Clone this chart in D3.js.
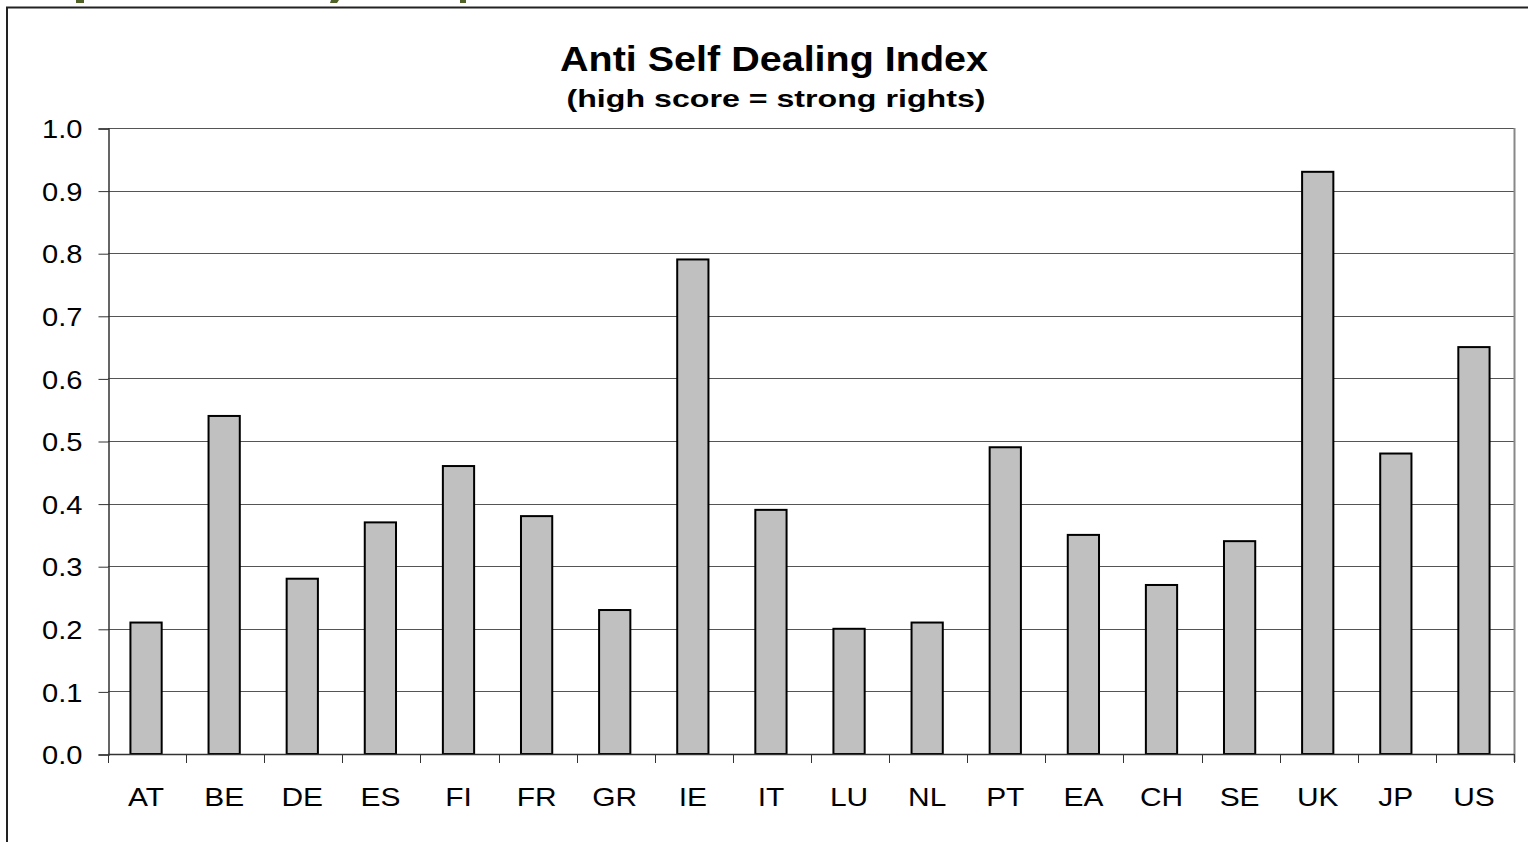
<!DOCTYPE html>
<html>
<head>
<meta charset="utf-8">
<script src="https://cdn.jsdelivr.net/npm/d3@7"></script>
<style>
  html, body { margin: 0; padding: 0; background: #fff; }
  svg { display: block; }
  text { font-family: "Liberation Sans", Arial, sans-serif; fill: #000; }
</style>
</head>
<body>
<svg id="chart" width="1528" height="842"></svg>
<script>
// Anti self dealing index by country
const countries = ["AT","BE","DE","ES","FI","FR","GR","IE","IT","LU","NL","PT","EA","CH","SE","UK","JP","US"];
const scores = [0.21,0.54,0.28,0.37,0.46,0.38,0.23,0.79,0.39,0.20,0.21,0.49,0.35,0.27,0.34,0.93,0.48,0.65];
const yTicks = [0,0.1,0.2,0.3,0.4,0.5,0.6,0.7,0.8,0.9,1.0];
const titleText = "Anti Self Dealing Index";
const subtitleText = "(high score = strong rights)";

const svg = d3.select("#chart");
const plot = { left: 108, right: 1514, top: 128, bottom: 754 };

// widen glyphs horizontally by a factor, keeping the anchor point
function stretch(sel, factor) {
  sel.each(function () {
    const w = this.getComputedTextLength();
    d3.select(this).attr("textLength", w * factor).attr("lengthAdjust", "spacingAndGlyphs");
  });
}

const x = d3.scaleBand()
  .domain(countries)
  .range([plot.left, plot.right])
  .paddingInner(0.6)
  .paddingOuter(0.3);

const y = d3.scaleLinear().domain([0, 1]).range([plot.bottom, plot.top]);

// slide header fragments peeking in at the top edge
const green = "#4f6228";
svg.append("path").attr("d", "M76,0H84V3H76Z").attr("fill", green);
svg.append("path").attr("d", "M331,0H339L337,3H330Z").attr("fill", green);
svg.append("path").attr("d", "M460,0H466V3H460Z").attr("fill", green);

// outer chart frame
svg.append("line").attr("x1", 6).attr("x2", 1528).attr("y1", 7.5).attr("y2", 7.5)
  .attr("stroke", "#222").attr("stroke-width", 2);
svg.append("line").attr("x1", 7).attr("x2", 7).attr("y1", 7).attr("y2", 842)
  .attr("stroke", "#222").attr("stroke-width", 2);

// titles
svg.append("text").attr("x", 774).attr("y", 71).attr("text-anchor", "middle")
  .attr("font-size", 35).attr("font-weight", "bold").text(titleText)
  .attr("textLength", 428).attr("lengthAdjust", "spacingAndGlyphs");
svg.append("text").attr("x", 776).attr("y", 107).attr("text-anchor", "middle")
  .attr("font-size", 24).attr("font-weight", "bold").text(subtitleText)
  .attr("textLength", 419).attr("lengthAdjust", "spacingAndGlyphs");

// horizontal gridlines
svg.append("g").selectAll("line").data(yTicks.filter(d => d > 0)).join("line")
  .attr("x1", plot.left).attr("x2", plot.right)
  .attr("y1", d => Math.round(y(d)) + 0.5).attr("y2", d => Math.round(y(d)) + 0.5)
  .attr("stroke", "#555").attr("stroke-width", 1);

// right border of plot area
svg.append("line").attr("x1", plot.right + 0.5).attr("x2", plot.right + 0.5)
  .attr("y1", plot.top).attr("y2", plot.bottom + 8)
  .attr("stroke", "#888").attr("stroke-width", 2);

// bars
svg.append("g").selectAll("rect").data(countries).join("rect")
  .attr("x", d => x(d) - 1)
  .attr("y", (d, i) => y(scores[i]))
  .attr("width", x.bandwidth())
  .attr("height", (d, i) => y(0) - y(scores[i]))
  .attr("fill", "#c0c0c0")
  .attr("stroke", "#000")
  .attr("stroke-width", 2);

// y axis
const yAxis = d3.axisLeft(y).tickValues(yTicks).tickFormat(d3.format(".1f")).tickSize(10).tickPadding(16);
const gy = svg.append("g").attr("transform", `translate(${plot.left + 0.5},0.5)`).call(yAxis);
gy.select(".domain").attr("stroke", "#333").attr("stroke-width", 1.5);
gy.selectAll(".tick line").attr("stroke", "#333");
gy.selectAll(".tick text").attr("font-size", 26).attr("font-family", "Liberation Sans, Arial, sans-serif")
  .attr("fill", "#000").attr("dy", "0.35em").call(stretch, 1.12);

// x axis: baseline, ticks between categories, labels centred under bars
const boundaries = d3.range(countries.length + 1).map(i => plot.left + i * (plot.right - plot.left) / countries.length);
const gx = svg.append("g");
gx.append("line").attr("x1", plot.left).attr("x2", plot.right)
  .attr("y1", plot.bottom + 0.5).attr("y2", plot.bottom + 0.5)
  .attr("stroke", "#333").attr("stroke-width", 1.5);
gx.selectAll("line.tk").data(boundaries).join("line").attr("class", "tk")
  .attr("x1", d => Math.round(d) + 0.5).attr("x2", d => Math.round(d) + 0.5)
  .attr("y1", plot.bottom).attr("y2", plot.bottom + 9)
  .attr("stroke", "#333");
gx.selectAll("text").data(countries).join("text")
  .attr("x", d => x(d) + x.bandwidth() / 2 - 1)
  .attr("y", 806)
  .attr("text-anchor", "middle")
  .attr("font-size", 26)
  .text(d => d)
  .call(stretch, 1.15);
</script>
</body>
</html>
